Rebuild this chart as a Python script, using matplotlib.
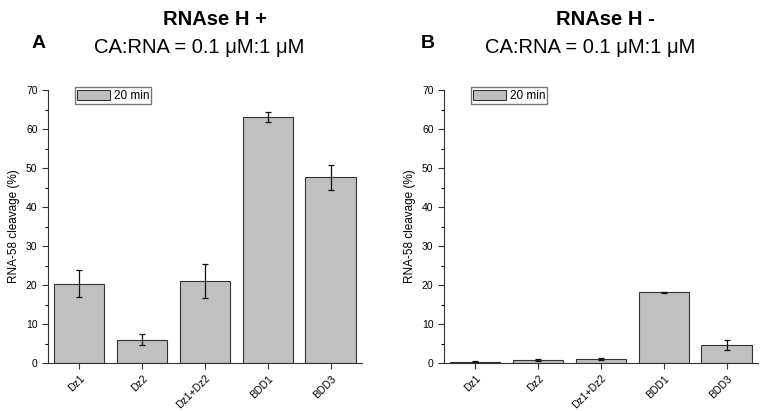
import matplotlib
matplotlib.use("Agg")
import matplotlib.pyplot as plt
from matplotlib.ticker import MultipleLocator
from matplotlib.patches import Patch

plt.rcParams['font.family'] = ['Liberation Sans', 'DejaVu Sans']

categories = ["Dz1", "Dz2", "Dz1+Dz2", "BDD1", "BDD3"]
plus_vals = [20.3, 6.0, 21.0, 63.1, 47.6]
plus_err = [3.5, 1.5, 4.4, 1.4, 3.3]
minus_vals = [0.3, 0.7, 1.1, 18.1, 4.7]
minus_err = [0.1, 0.2, 0.3, 0.2, 1.3]

fig = plt.figure(figsize=(7.61, 4.11), dpi=100)
axA = fig.add_axes([0.063, 0.1168, 0.4126, 0.664])
axB = fig.add_axes([0.5834, 0.1168, 0.4126, 0.664])

for ax, vals, err in [(axA, plus_vals, plus_err), (axB, minus_vals, minus_err)]:
    x = range(len(categories))
    ax.bar(x, vals, width=0.8, color="#c0c0c0", edgecolor="#333333", linewidth=0.8,
           yerr=err, capsize=2.5, error_kw=dict(ecolor="#111111", elinewidth=0.9, capthick=0.9))
    ax.set_xlim(-0.5, 4.5)
    ax.set_ylim(0, 70)
    ax.set_xticks(list(x))
    ax.set_xticklabels(categories, rotation=45, fontsize=7.5, ha="right", rotation_mode="anchor")
    ax.yaxis.set_major_locator(MultipleLocator(10))
    ax.yaxis.set_minor_locator(MultipleLocator(5))
    ax.tick_params(axis="both", direction="out", labelsize=7.5, length=4, width=0.8, color="#333333")
    ax.tick_params(axis="y", which="minor", length=2.5, width=0.8)
    ax.spines["top"].set_visible(False)
    ax.spines["right"].set_visible(False)
    for s in ["left", "bottom"]:
        ax.spines[s].set_linewidth(0.8)
        ax.spines[s].set_color("#333333")
    ax.set_ylabel("RNA-58 cleavage (%)", fontsize=8.5)
    ax.legend(handles=[Patch(facecolor="#c0c0c0", edgecolor="#333333", linewidth=0.8, label="20 min")],
              loc="upper left", bbox_to_anchor=(0.085, 1.01), fontsize=8.5, frameon=True,
              fancybox=False, edgecolor="#555555", handlelength=2.8, handleheight=1.0,
              borderpad=0.2, handletextpad=0.3, borderaxespad=0.0)

fig.text(0.283, 0.975, "RNAse H +", ha="center", va="top", fontsize=14.5, fontweight="bold")
fig.text(0.795, 0.975, "RNAse H -", ha="center", va="top", fontsize=14.5, fontweight="bold")
fig.text(0.042, 0.895, "A", ha="left", va="center", fontsize=14, fontweight="bold")
fig.text(0.553, 0.895, "B", ha="left", va="center", fontsize=14, fontweight="bold")
fig.text(0.262, 0.885, "CA:RNA = 0.1 μM:1 μM", ha="center", va="center", fontsize=14.5)
fig.text(0.775, 0.885, "CA:RNA = 0.1 μM:1 μM", ha="center", va="center", fontsize=14.5)

fig.savefig("out.png", dpi=100)
